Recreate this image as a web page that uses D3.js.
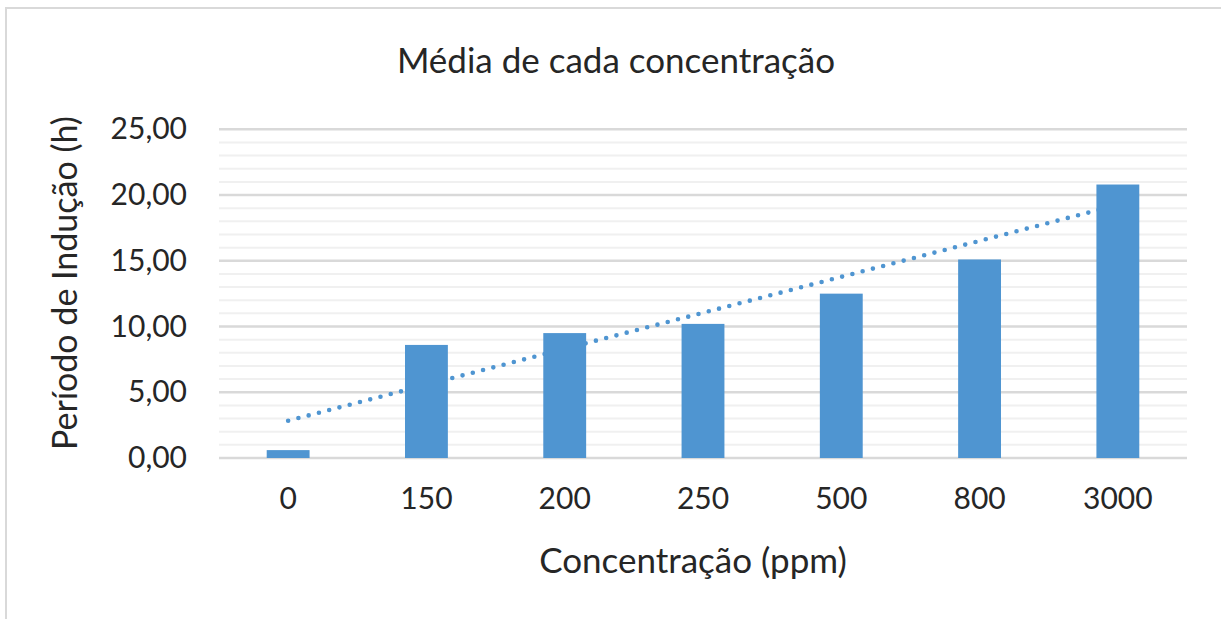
<!DOCTYPE html>
<html>
<head>
<meta charset="utf-8">
<script src="https://cdn.jsdelivr.net/npm/d3@7"></script>
<style>
  html, body { margin: 0; padding: 0; background: #ffffff; }
  svg { display: block; }
  text { font-family: Lato, "Open Sans", sans-serif; fill: #262626; }
</style>
</head>
<body>
<svg id="chart" width="1221" height="619"></svg>
<script>
// Concentrations (ppm) on the category axis
const categories = ["0", "150", "200", "250", "500", "800", "3000"];
// Mean induction period (h) for each concentration
const values = [0.6, 8.6, 9.5, 10.2, 12.5, 15.1, 20.8];
// Value axis labels
const yTicks = [0, 5, 10, 15, 20, 25];
const yMinorTicks = d3.range(0, 26, 1);

const chartTitle = "Média de cada concentração";
const xTitle = "Concentração (ppm)";
const yTitle = "Período de Indução (h)";

const W = 1221, H = 619;
const plot = { left: 219, right: 1187, top: 129.3, bottom: 458 };
const barColor = "#4f95d1";

const svg = d3.select("#chart");

// outer chart frame
svg.append("rect")
  .attr("x", 6).attr("y", 8)
  .attr("width", W + 20).attr("height", H + 20)
  .attr("fill", "#ffffff")
  .attr("stroke", "#d9d9d9").attr("stroke-width", 2);

const x = d3.scaleBand()
  .domain(categories)
  .range([plot.left, plot.right])
  .paddingInner(0.69)
  .paddingOuter(0.345);

const y = d3.scaleLinear()
  .domain([0, 25])
  .range([plot.bottom, plot.top]);

// minor gridlines
svg.append("g")
  .selectAll("line")
  .data(yMinorTicks.filter(v => v % 5 !== 0))
  .join("line")
  .attr("x1", plot.left).attr("x2", plot.right)
  .attr("y1", d => y(d)).attr("y2", d => y(d))
  .attr("stroke", "#f0f0f0").attr("stroke-width", 2);

// major gridlines
svg.append("g")
  .selectAll("line")
  .data(yTicks)
  .join("line")
  .attr("x1", plot.left).attr("x2", plot.right)
  .attr("y1", d => y(d)).attr("y2", d => y(d))
  .attr("stroke", "#d9d9d9").attr("stroke-width", 2.5);

// y axis labels
const fmt = d => d3.format(".2f")(d).replace(".", ",");
const yAxis = d3.axisLeft(y).tickValues(yTicks).tickFormat(fmt).tickSize(0).tickPadding(32);
const gy = svg.append("g").attr("transform", `translate(${plot.left},0)`).call(yAxis);
gy.select(".domain").remove();
gy.selectAll("text")
  .attr("font-size", 30)
  .attr("fill", "#262626")
  .style("font-family", "Lato, sans-serif");

// x axis labels
const xAxis = d3.axisBottom(x).tickSize(0).tickPadding(30);
const gx = svg.append("g").attr("transform", `translate(0,${plot.bottom})`).call(xAxis);
gx.select(".domain").remove();
gx.selectAll("text")
  .attr("font-size", 30)
  .attr("fill", "#262626")
  .style("font-family", "Lato, sans-serif");

// linear least-squares trendline over category index
const n = values.length;
const idx = d3.range(1, n + 1);
const mx = d3.mean(idx), my = d3.mean(values);
const slope = d3.sum(idx, (k, i) => (k - mx) * (values[i] - my)) / d3.sum(idx, k => (k - mx) ** 2);
const intercept = my - slope * mx;
const trend = [
  { c: categories[0], v: intercept + slope * 1 },
  { c: categories[n - 1], v: intercept + slope * n }
];
svg.append("path")
  .datum(trend)
  .attr("d", d3.line().x(d => x(d.c) + x.bandwidth() / 2).y(d => y(d.v)))
  .attr("fill", "none")
  .attr("stroke", barColor)
  .attr("stroke-width", 4.6)
  .attr("stroke-linecap", "round")
  .attr("stroke-dasharray", "0 10.6");

// bars
svg.append("g")
  .selectAll("rect")
  .data(values)
  .join("rect")
  .attr("x", (d, i) => x(categories[i]))
  .attr("width", x.bandwidth())
  .attr("y", d => y(d))
  .attr("height", d => y(0) - y(d))
  .attr("fill", barColor);

// titles
svg.append("text")
  .attr("x", 616).attr("y", 73)
  .attr("text-anchor", "middle")
  .attr("font-size", 35)
  .text(chartTitle);

svg.append("text")
  .attr("x", 693).attr("y", 573)
  .attr("text-anchor", "middle")
  .attr("font-size", 35)
  .text(xTitle);

svg.append("text")
  .attr("transform", "translate(77,283) rotate(-90)")
  .attr("text-anchor", "middle")
  .attr("font-size", 34)
  .text(yTitle);
</script>
</body>
</html>
